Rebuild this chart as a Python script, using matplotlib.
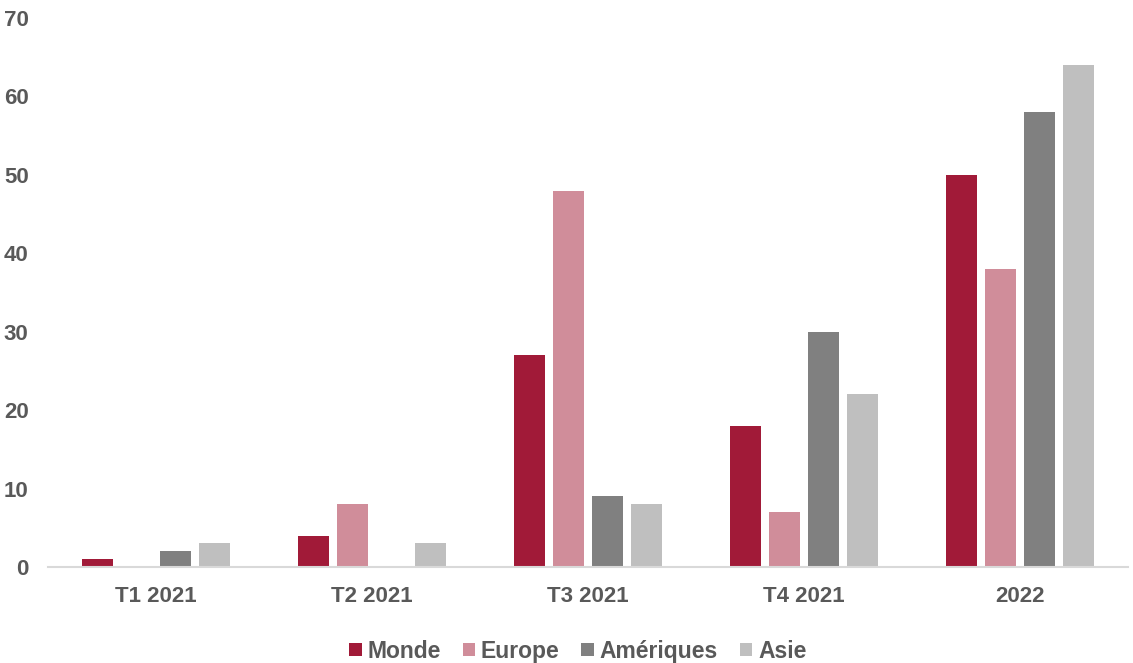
import numpy as np
import matplotlib.pyplot as plt

categories = ['T1 2021', 'T2 2021', 'T3 2021', 'T4 2021', '2022']
series = ['Monde', 'Europe', 'Amériques', 'Asie']
monde = [1, 4, 27, 18, 50]
europe = [0, 8, 48, 7, 38]
ameriques = [2, 0, 9, 30, 58]
asie = [3, 3, 8, 22, 64]
colors = ['#A11A38', '#D08D9A', '#808080', '#BFBFBF']

plt.rcParams['font.family'] = ['Liberation Sans', 'DejaVu Sans']
text_color = '#595959'


def draw():
    fig = plt.figure(figsize=(11.33, 6.63), dpi=100)
    ax = fig.add_axes([0.0424, 0.1448, 0.9532, 0.8281])
    x = np.arange(len(categories))
    width = 0.144
    pitch = 0.18
    values = [monde, europe, ameriques, asie]
    for i, (name, vals) in enumerate(zip(series, values)):
        ax.bar(x + (i - 1.5) * pitch, vals, width, color=colors[i], label=name)
    ax.set_xlim(-0.5, len(categories) - 0.5)
    ax.set_ylim(0, 70)
    ax.set_yticks(range(0, 71, 10))
    ax.set_xticks(x)
    ax.set_xticklabels(categories)
    for s in ['top', 'right', 'left']:
        ax.spines[s].set_visible(False)
    ax.spines['bottom'].set_color('#D9D9D9')
    ax.spines['bottom'].set_linewidth(1.5)
    ax.tick_params(axis='both', length=0, labelsize=16, labelcolor=text_color)
    ax.tick_params(axis='x', pad=14)
    ax.tick_params(axis='y', pad=14)
    for lab in ax.get_xticklabels() + ax.get_yticklabels():
        lab.set_fontweight('bold')
    leg = fig.legend(loc='center', bbox_to_anchor=(0.51, 0.018), ncol=4,
                     frameon=False, handlelength=0.55, handleheight=0.55,
                     handletextpad=0.25, columnspacing=0.95,
                     prop={'size': 16.5, 'weight': 'bold'})
    for t in leg.get_texts():
        t.set_color(text_color)
    fig.savefig('out.png', dpi=100)
    plt.close(fig)


def main():
    draw()


if __name__ == "__main__":
    main()
